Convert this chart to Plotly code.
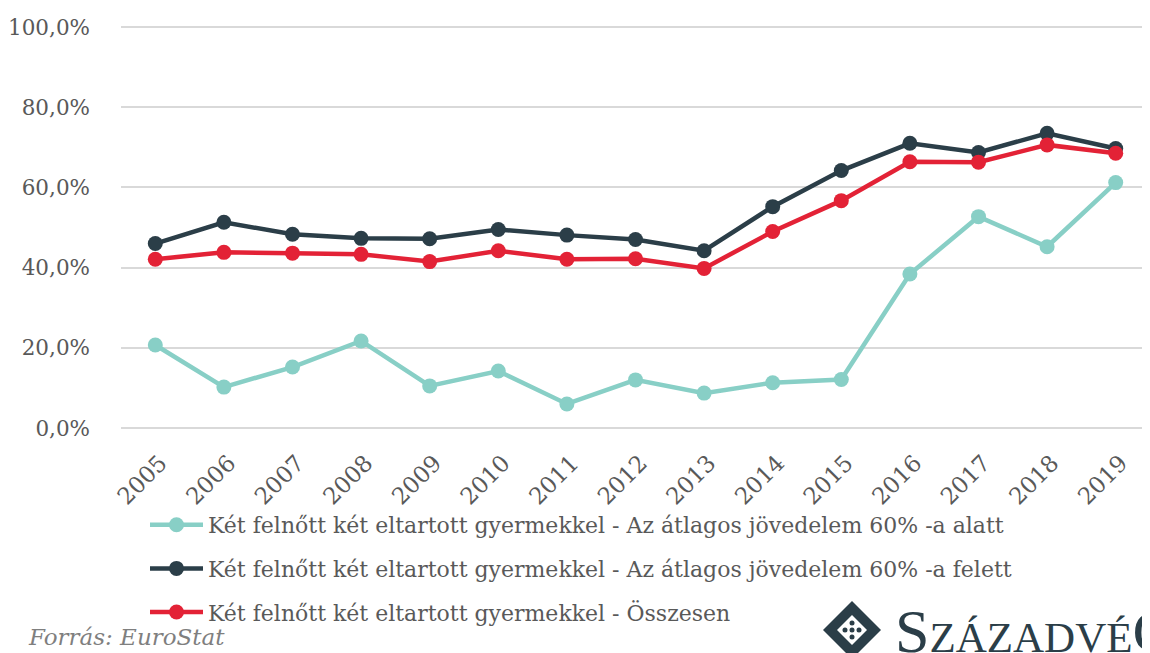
import plotly.graph_objects as go

years = [str(y) for y in range(2005, 2020)]
alatt = [20.7, 10.2, 15.2, 21.7, 10.5, 14.2, 6.0, 12.0, 8.7, 11.3, 12.1, 38.4, 52.7, 45.2, 61.2]
felett = [46.0, 51.3, 48.3, 47.3, 47.2, 49.5, 48.1, 47.0, 44.2, 55.2, 64.2, 71.0, 68.7, 73.5, 69.7]
osszesen = [42.1, 43.8, 43.6, 43.3, 41.5, 44.2, 42.1, 42.2, 39.8, 49.0, 56.7, 66.4, 66.3, 70.6, 68.5]

names = [
    "Két felnőtt két eltartott gyermekkel - Az átlagos jövedelem 60% -a alatt",
    "Két felnőtt két eltartott gyermekkel - Az átlagos jövedelem 60% -a felett",
    "Két felnőtt két eltartott gyermekkel - Összesen",
]
colors = ["#88CFC6", "#2B3E48", "#E32236"]
series = [alatt, felett, osszesen]

ytickvals = [0, 20, 40, 60, 80, 100]
yticktext = ["0,0%", "20,0%", "40,0%", "60,0%", "80,0%", "100,0%"]

# the page body has an 8px margin; size the figure so it ends at the window edge
OFF = 8
W, H = 1150 - OFF, 653 - OFF
Y0, Y1 = -0.5, 100.5
ML, MR, MT, MB = 121 - OFF, 0, 25 - OFF, 223
PW, PH = W - ML - MR, H - MT - MB


def px(x):  # window pixel -> paper fraction
    return (x - OFF - ML) / PW


def py(y):
    return (H - MB - (y - OFF)) / PH


fig = go.Figure()
for i, (name, vals, col) in enumerate(zip(names, series, colors)):
    fig.add_trace(go.Scatter(
        x=years, y=vals, name=name, mode="lines+markers",
        line=dict(color=col, width=4.5),
        marker=dict(color=col, size=15),
        legendgroup=str(i),
    ))

serif = "DejaVu Serif"
fig.update_layout(
    width=W, height=H,
    margin=dict(l=ML, r=MR, t=MT, b=MB, autoexpand=False),
    plot_bgcolor="white", paper_bgcolor="white",
    font=dict(family=serif, size=20, color="#595959"),
    showlegend=True,
    legend=dict(
        x=px(145), y=py(504), xanchor="left", yanchor="top",
        orientation="v", traceorder="grouped", tracegroupgap=12,
        font=dict(family=serif, size=22, color="#595959"),
        itemwidth=53,
        bgcolor="rgba(0,0,0,0)",
    ),
    xaxis=dict(
        type="category", showgrid=False, showline=False, zeroline=False,
        tickangle=-45, ticks="", automargin=False,
        ticklabelstandoff=14, ticklabelshift=5,
        tickfont=dict(family=serif, size=23, color="#595959"),
        range=[-0.5, 14.5],
    ),
    yaxis=dict(
        range=[Y0, Y1], tickvals=ytickvals, ticktext=yticktext,
        showgrid=True, gridcolor="#d9d9d9", gridwidth=1.5,
        zeroline=False, showline=False, ticks="", automargin=False,
        ticklabelstandoff=30,
        tickfont=dict(family=serif, size=21.5, color="#595959"),
    ),
)

# source note
fig.add_annotation(
    text="<i>Forrás: EuroStat</i>", xref="paper", yref="paper",
    x=px(26), y=py(637), xanchor="left", yanchor="middle", showarrow=False,
    font=dict(family=serif, size=23, color="#7f7f7f"),
)

# logo text
logo_col = "#2B3E48"
fig.add_annotation(
    text="<span style='font-size:62px'>S</span>ZÁZADVÉ<span style='font-size:62px'>G</span>",
    xref="paper", yref="paper", x=px(893), y=py(667), xanchor="left", yanchor="bottom",
    showarrow=False, font=dict(family="Liberation Serif", size=43, color=logo_col),
)

# logo icon
cx, cy, r = 852, 630, 29
fig.add_shape(type="path", xref="paper", yref="paper",
              path=f"M {px(cx)},{py(cy - r)} L {px(cx + r)},{py(cy)} L {px(cx)},{py(cy + r)} L {px(cx - r)},{py(cy)} Z",
              fillcolor=logo_col, line=dict(width=0))
ri = 15
fig.add_shape(type="path", xref="paper", yref="paper",
              path=f"M {px(cx)},{py(cy - ri)} L {px(cx + ri)},{py(cy)} L {px(cx)},{py(cy + ri)} L {px(cx - ri)},{py(cy)} Z",
              fillcolor="white", line=dict(width=0))
for dx, dy in [(0, -7), (7, 0), (0, 7), (-7, 0), (0, 0)]:
    d = 2.5
    fig.add_shape(type="circle", xref="paper", yref="paper",
                  x0=px(cx + dx - d), x1=px(cx + dx + d), y0=py(cy + dy + d), y1=py(cy + dy - d),
                  fillcolor=logo_col, line=dict(width=0))

fig.write_html("out.html")
